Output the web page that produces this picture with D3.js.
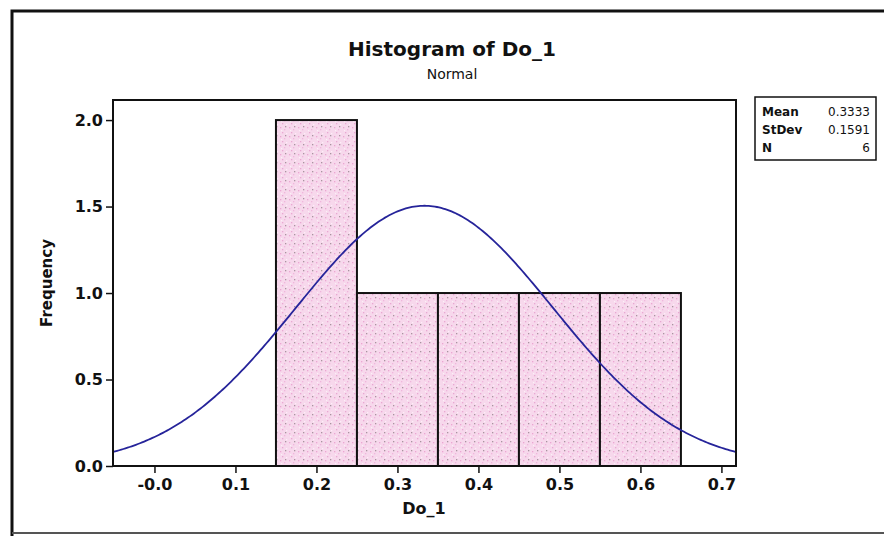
<!DOCTYPE html>
<html>
<head>
<meta charset="utf-8">
<script src="https://cdn.jsdelivr.net/npm/d3@7"></script>
<style>
  html, body { margin: 0; padding: 0; background: #fff; }
  svg { display: block; }
  text { font-family: "DejaVu Sans", Verdana, sans-serif; fill: #111; }
</style>
</head>
<body>
<svg id="chart" width="884" height="536"></svg>
<script>
// Histogram bins (Do_1) and their counts
const binStarts = [0.15, 0.25, 0.35, 0.45, 0.55];
const binWidth = 0.1;
const counts = [2, 1, 1, 1, 1];

// Fitted normal distribution summary
const statNames = ["Mean", "StDev", "N"];
const statValues = ["0.3333", "0.1591", "6"];
const mean = 0.3333, stdev = 0.1591, n = 6;

// Axis ticks
const xTicks = [0.0, 0.1, 0.2, 0.3, 0.4, 0.5, 0.6, 0.7];
const xTickLabels = ["-0.0", "0.1", "0.2", "0.3", "0.4", "0.5", "0.6", "0.7"];
const yTicks = [0.0, 0.5, 1.0, 1.5, 2.0];

const svg = d3.select("#chart");

// Outer frame of the graph window
svg.append("path")
  .attr("d", "M12,540 L12,11 L890,11")
  .attr("fill", "none").attr("stroke", "#111").attr("stroke-width", 3);
svg.append("line")
  .attr("x1", 12).attr("x2", 884).attr("y1", 533).attr("y2", 533)
  .attr("stroke", "#555").attr("stroke-width", 2);

const plot = { left: 113, right: 736, top: 100, bottom: 466 };

const x = d3.scaleLinear().domain([-0.0512, 0.718]).range([plot.left, plot.right]);
const y = d3.scaleLinear().domain([0, 2.116]).range([plot.bottom, plot.top]);

// Speckled pink fill for the bars
const defs = svg.append("defs");
const pat = defs.append("pattern")
  .attr("id", "speckle").attr("patternUnits", "userSpaceOnUse")
  .attr("width", 9).attr("height", 9);
pat.append("rect").attr("width", 9).attr("height", 9).attr("fill", "#f7d8ec");
[[1, 1, "#eca6d3"], [5, 3, "#f0b6dc"], [3, 6, "#e9a8d2"], [7, 7, "#fdeef7"], [2, 4, "#fdeef7"], [6, 0, "#a8949f"]]
  .forEach(([px, py, c]) => pat.append("rect").attr("x", px).attr("y", py)
    .attr("width", 1.3).attr("height", 1.3).attr("fill", c));

// Plot area
svg.append("rect")
  .attr("x", plot.left).attr("y", plot.top)
  .attr("width", plot.right - plot.left).attr("height", plot.bottom - plot.top)
  .attr("fill", "#fff").attr("stroke", "#111").attr("stroke-width", 2);

// Bars
svg.append("g").selectAll("rect")
  .data(binStarts.map((s, i) => ({ s, c: counts[i] })))
  .join("rect")
  .attr("x", d => x(d.s))
  .attr("y", d => y(d.c))
  .attr("width", d => x(d.s + binWidth) - x(d.s))
  .attr("height", d => y(0) - y(d.c))
  .attr("fill", "url(#speckle)")
  .attr("stroke", "#111").attr("stroke-width", 2);

// Normal curve scaled to counts
const scale = n * binWidth;
const pdf = v => scale / (stdev * Math.sqrt(2 * Math.PI)) * Math.exp(-0.5 * ((v - mean) / stdev) ** 2);
const xs = d3.range(0, 301).map(i => x.domain()[0] + (x.domain()[1] - x.domain()[0]) * i / 300);
svg.append("path")
  .datum(xs)
  .attr("d", d3.line().x(v => x(v)).y(v => y(pdf(v))))
  .attr("fill", "none").attr("stroke", "#26249a").attr("stroke-width", 1.8);

// Re-draw plot border on top
svg.append("rect")
  .attr("x", plot.left).attr("y", plot.top)
  .attr("width", plot.right - plot.left).attr("height", plot.bottom - plot.top)
  .attr("fill", "none").attr("stroke", "#111").attr("stroke-width", 2);

// Axes
const xAxis = d3.axisBottom(x).tickValues(xTicks)
  .tickFormat((d, i) => xTickLabels[i]).tickSize(7).tickPadding(6);
const gx = svg.append("g").attr("transform", `translate(0,${plot.bottom})`).call(xAxis);
gx.select(".domain").remove();
gx.selectAll("line").attr("stroke", "#111").attr("stroke-width", 1.5);
gx.selectAll("text").style("font-size", "16px").style("font-weight", "bold")
  .style("font-family", "'DejaVu Sans', sans-serif").attr("fill", "#111");

const yAxis = d3.axisLeft(y).tickValues(yTicks).tickFormat(d3.format(".1f")).tickSize(7).tickPadding(3);
const gy = svg.append("g").attr("transform", `translate(${plot.left},0)`).call(yAxis);
gy.select(".domain").remove();
gy.selectAll("line").attr("stroke", "#111").attr("stroke-width", 1.5);
gy.selectAll("text").style("font-size", "16px").style("font-weight", "bold")
  .style("font-family", "'DejaVu Sans', sans-serif").attr("fill", "#111");

// Titles
svg.append("text").attr("x", 452).attr("y", 56).attr("text-anchor", "middle")
  .style("font-size", "20px").style("font-weight", "bold").text("Histogram of Do_1");
svg.append("text").attr("x", 452).attr("y", 79).attr("text-anchor", "middle")
  .style("font-size", "14px").text("Normal");
svg.append("text").attr("x", 424).attr("y", 514).attr("text-anchor", "middle")
  .style("font-size", "16px").style("font-weight", "bold").text("Do_1");
svg.append("text")
  .attr("transform", "translate(52,283) rotate(-90)").attr("text-anchor", "middle")
  .style("font-size", "15px").style("font-weight", "bold").text("Frequency");

// Statistics box
const box = svg.append("g");
box.append("rect").attr("x", 755).attr("y", 97).attr("width", 121).attr("height", 63)
  .attr("fill", "#fff").attr("stroke", "#111").attr("stroke-width", 1.5);
statNames.forEach((nm, i) => {
  box.append("text").attr("x", 762).attr("y", 116 + i * 18)
    .style("font-size", "12px").style("font-weight", "bold").text(nm);
  box.append("text").attr("x", 870).attr("y", 116 + i * 18).attr("text-anchor", "end")
    .style("font-size", "12px").text(statValues[i]);
});
</script>
</body>
</html>
